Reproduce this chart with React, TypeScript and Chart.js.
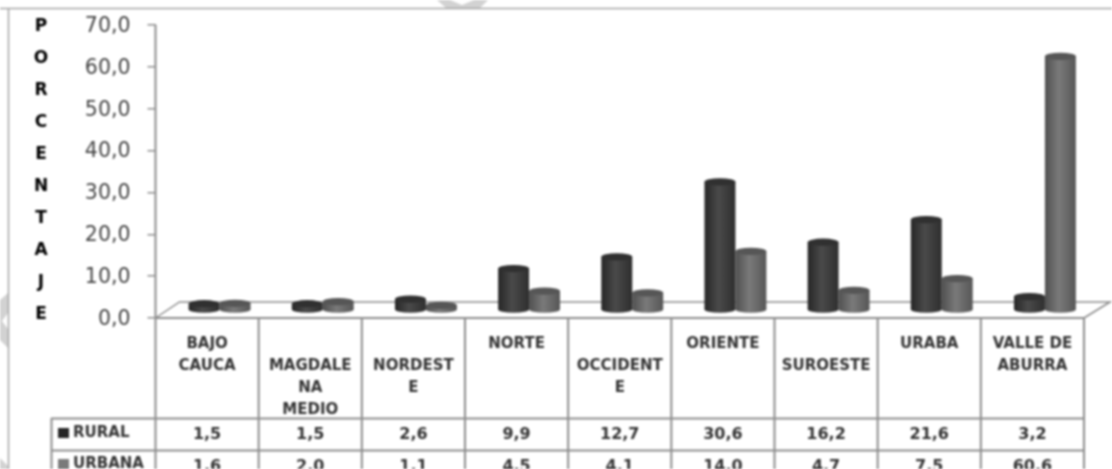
import React, { useEffect, useRef } from "react";
import { Chart, registerables } from "chart.js";

Chart.register(...registerables);

const categories: string[][] = [
  ["BAJO", "CAUCA"],
  ["", "MAGDALE", "NA", "MEDIO"],
  ["", "NORDEST", "E"],
  ["NORTE"],
  ["", "OCCIDENT", "E"],
  ["ORIENTE"],
  ["", "SUROESTE"],
  ["URABA"],
  ["VALLE DE", "ABURRA"],
];
const rural = [1.5, 1.5, 2.6, 9.9, 12.7, 30.6, 16.2, 21.6, 3.2];
const urbana = [1.6, 2.0, 1.1, 4.5, 4.1, 14.0, 4.7, 7.5, 60.6];
const yTitle = ["P", "O", "R", "C", "E", "N", "T", "A", "J", "E"];

const fmt = (v: number) => v.toFixed(1).replace(".", ",");
const FONT = '"DejaVu Sans"';
const GRID = "#8c8c8c";
const DX = 12.5;
const DY = -8;
const RY = 3.6;
const palettes: Record<string, string[]> = {
  RURAL: ["#262626", "#4a4a4a", "#2e2e2e", "#303030"],
  URBANA: ["#505050", "#7a7a7a", "#565656", "#565656"],
};

function line(c: CanvasRenderingContext2D, x1: number, y1: number, x2: number, y2: number) {
  c.beginPath();
  c.moveTo(x1, y1);
  c.lineTo(x2, y2);
  c.stroke();
}
function poly(c: CanvasRenderingContext2D, pts: number[][]) {
  c.beginPath();
  pts.forEach((p, i) => (i ? c.lineTo(p[0], p[1]) : c.moveTo(p[0], p[1])));
  c.closePath();
  c.fill();
}

const decor = {
  id: "decor",
  beforeDraw(chart: any) {
    const c: CanvasRenderingContext2D = chart.ctx;
    c.save();
    c.fillStyle = "#fff";
    c.fillRect(0, 0, chart.width, chart.height);
    c.fillStyle = "#d2d2d2";
    poly(c, [[437, 0], [446, 8], [480, 8], [488, 0], [474, 0], [462, 5], [450, 0]]);
    poly(c, [[0, 300], [8, 293], [8, 313], [2, 321], [8, 329], [8, 348], [0, 340]]);
    poly(c, [[0, 458], [8, 466], [8, 469], [0, 469]]);
    c.strokeStyle = "#a4a4a4";
    c.lineWidth = 1.5;
    line(c, 0, 8.5, chart.width, 8.5);
    line(c, 8.5, 8, 8.5, chart.height);
    c.restore();
  },
  beforeDatasetsDraw(chart: any) {
    const c: CanvasRenderingContext2D = chart.ctx;
    const { left, right, bottom, top } = chart.chartArea;
    const h = chart.height;
    const cw = (right - left) / categories.length;
    c.save();
    c.strokeStyle = GRID;
    c.lineWidth = 1.5;
    // 3D floor
    c.beginPath();
    c.moveTo(left, bottom);
    c.lineTo(left + 24, bottom - 16);
    c.lineTo(right + 26, bottom - 16);
    c.lineTo(right, bottom);
    c.stroke();
    c.lineWidth = 2;
    line(c, left, bottom, right, bottom);
    line(c, left, top, left, h);
    // table grid
    for (let i = 1; i <= categories.length; i++) {
      line(c, left + i * cw, bottom, left + i * cw, h);
    }
    line(c, 51, 418.5, right, 418.5);
    line(c, 51, 450.5, right, 450.5);
    line(c, 51.5, 418, 51.5, h);
    // data table
    c.textAlign = "center";
    c.textBaseline = "middle";
    c.fillStyle = "#333";
    c.font = `bold 16px ${FONT}`;
    rural.forEach((v, i) => c.fillText(fmt(v), left + (i + 0.5) * cw, 435));
    urbana.forEach((v, i) => c.fillText(fmt(v), left + (i + 0.5) * cw, 467));
    // legend keys
    chart.data.datasets.forEach((d: any, i: number) => {
      const y = i === 0 ? 433 : 464;
      c.fillStyle = palettes[d.label][i === 0 ? 0 : 1];
      c.fillRect(58, y - 5, 11, 10);
      c.fillStyle = "#333";
      c.textAlign = "left";
      c.font = `bold 15px ${FONT}`;
      c.fillText(d.label, 73, y);
    });
    // y title
    c.textAlign = "center";
    c.fillStyle = "#000";
    c.font = `bold 17px ${FONT}`;
    yTitle.forEach((t, i) => c.fillText(t, 41, 26.5 + i * 32));
    c.restore();
  },
  // the default loop paints the first dataset last; here the second one has to lie on top
  beforeDatasetDraw() {
    return false;
  },
  afterDatasetsDraw(chart: any) {
    const c: CanvasRenderingContext2D = chart.ctx;
    chart.data.datasets.forEach((_: any, i: number) => {
      const meta = chart.getDatasetMeta(i);
      const pal = palettes[meta.label];
      c.save();
      c.translate(DX, DY);
      meta.data.forEach((el: any) => {
        const x0 = el.x - el.width / 2;
        const g = c.createLinearGradient(x0, 0, x0 + el.width, 0);
        g.addColorStop(0, pal[0]);
        g.addColorStop(0.45, pal[1]);
        g.addColorStop(1, pal[2]);
        el.options = { ...el.options, backgroundColor: g };
        c.fillStyle = g;
        c.beginPath();
        c.ellipse(el.x, el.base, el.width / 2, RY, 0, 0, Math.PI * 2);
        c.fill();
        el.draw(c);
        c.fillStyle = pal[3];
        c.beginPath();
        c.ellipse(el.x, el.y, el.width / 2, RY, 0, 0, Math.PI * 2);
        c.fill();
      });
      c.restore();
    });
  },
};

export default function App() {
  const ref = useRef<HTMLCanvasElement>(null);
  useEffect(() => {
    const chart = new Chart(ref.current!, {
      type: "bar",
      data: {
        labels: categories,
        datasets: [
          { label: "RURAL", data: rural, clip: false, backgroundColor: "#3a3a3a" },
          { label: "URBANA", data: urbana, clip: false, backgroundColor: "#6e6e6e" },
        ],
      },
      options: {
        animation: false,
        responsive: false,
        events: [],
        layout: { padding: { left: 0, right: 28, top: 25, bottom: 51 } },
        datasets: { bar: { categoryPercentage: 0.6, barPercentage: 1 } },
        plugins: { legend: { display: false }, tooltip: { enabled: false }, title: { display: false } },
        scales: {
          x: {
            border: { display: false },
            grid: { display: false },
            afterFit: (s: any) => {
              s.height = 100;
              s.paddingLeft = 0;
              s.paddingRight = 0;
            },
            ticks: {
              autoSkip: false,
              maxRotation: 0,
              minRotation: 0,
              padding: 7,
              color: "#333",
              font: { family: "DejaVu Sans", size: 15, weight: "bold", lineHeight: 1.47 },
            },
          },
          y: {
            min: 0,
            max: 70,
            border: { display: false },
            grid: { drawOnChartArea: false, tickLength: 8, color: GRID, lineWidth: 1.5 },
            afterFit: (s: any) => {
              s.width = 155.5;
              s.paddingTop = 0;
              s.paddingBottom = 0;
            },
            ticks: {
              stepSize: 10,
              padding: 17,
              labelOffset: 1.5,
              color: "#444",
              font: { family: "DejaVu Sans", size: 20.5 },
              callback: (v: any) => fmt(Number(v)),
            },
          },
        },
      },
      plugins: [decor],
    } as any);
    return () => chart.destroy();
  }, []);
  return (
    <canvas
      ref={ref}
      width={1112}
      height={469}
      style={{ position: "fixed", left: 0, top: 0, width: 1112, height: 469, filter: "blur(0.8px)" }}
    />
  );
}
